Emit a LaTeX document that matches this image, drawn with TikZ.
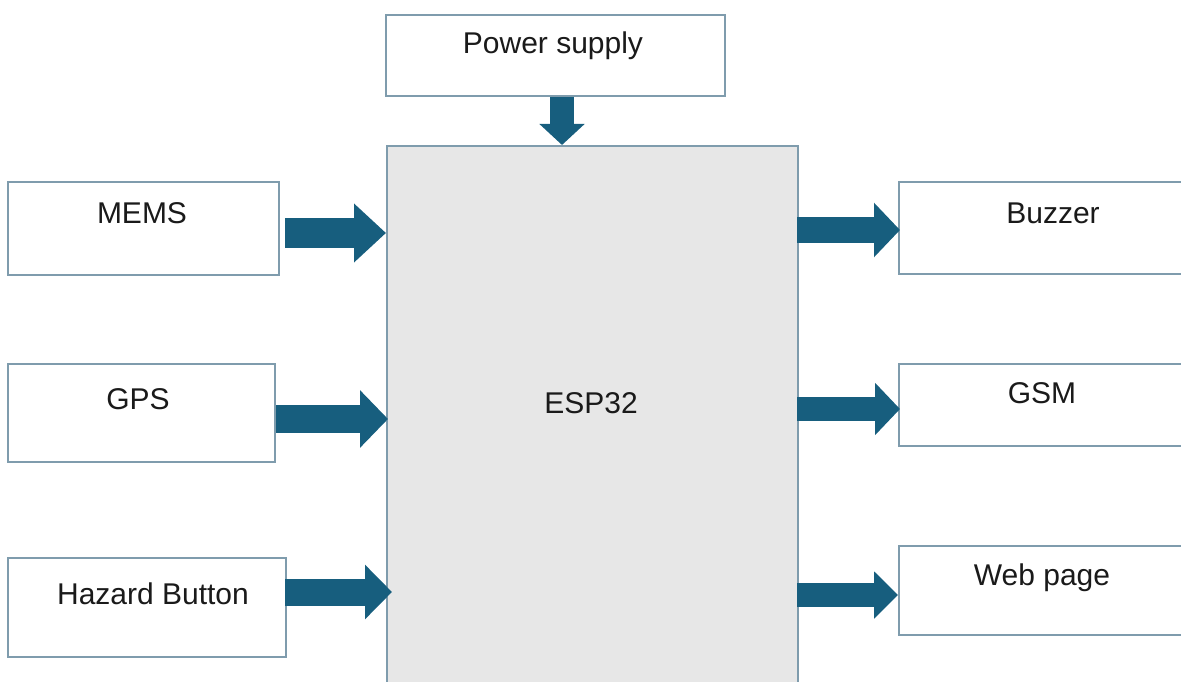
\documentclass[tikz,border=0pt]{standalone}
\usepackage{fontspec}
\setmainfont{Liberation Sans}
\usetikzlibrary{arrows.meta}
\definecolor{edge}{HTML}{7F9CAD}
\definecolor{arrowc}{HTML}{175E7E}
\definecolor{espfill}{HTML}{E7E7E7}
\definecolor{txt}{HTML}{1A1A1A}
\tikzset{
  box/.style={draw=edge, line width=2pt, fill=white, inner sep=0pt, anchor=north west},
  lbl/.style={anchor=base, inner sep=0pt, font=\fontsize{30}{33}\selectfont, text=txt},
  barrow/.style={draw=arrowc},
}
\begin{document}
\begin{tikzpicture}[x=1pt,y=-1pt]
\useasboundingbox (0,0) rectangle (1181,682);
\clip (0,0) rectangle (1181,682);
% boxes
\node[box, minimum width=339pt, minimum height=81pt] (ps) at (385,14) {};
\node[box, fill=espfill, minimum width=411pt, minimum height=560pt] (esp) at (386,145) {};
\node[box, minimum width=271pt, minimum height=93pt] (mems) at (7,181) {};
\node[box, minimum width=267pt, minimum height=98pt] (gps) at (7,363) {};
\node[box, minimum width=278pt, minimum height=99pt] (haz) at (7,557) {};
\node[box, minimum width=320pt, minimum height=92pt] (buz) at (898,181) {};
\node[box, minimum width=320pt, minimum height=82pt] (gsm) at (898,363) {};
\node[box, minimum width=320pt, minimum height=89pt] (web) at (898,545) {};
% labels
\node[lbl] (pst) at (553,54) {Power supply};
\node[lbl] (espt) at (591,413) {ESP32};
\node[lbl] (memst) at (142,223) {MEMS};
\node[lbl] (gpst) at (138,409) {GPS};
\node[lbl] (hazt) at (153,604) {Hazard Button};
\node[lbl] (buzt) at (1053,223) {Buzzer};
\node[lbl] (gsmt) at (1042,403) {GSM};
\node[lbl] (webt) at (1042,585) {Web page};
% arrows
\draw[barrow, line width=24pt, -{Triangle[length=21pt, width=44pt]}] (ps.south -| 562,0) -- (esp.north -| 562,0);
\draw[barrow, line width=30pt, -{Triangle[length=32pt, width=57pt]}] ([xshift=5pt]mems.east |- 0,233) -- (esp.west |- 0,233);
\draw[barrow, line width=28pt, -{Triangle[length=28pt, width=56pt]}] (gps.east |- 0,419) -- ([xshift=2pt]esp.west |- 0,419);
\draw[barrow, line width=27pt, -{Triangle[length=27pt, width=53pt]}] ([xshift=-2pt]haz.east |- 0,592) -- ([xshift=6pt]esp.west |- 0,592);
\draw[barrow, line width=26pt, -{Triangle[length=26pt, width=53pt]}] ([xshift=-2pt]esp.east |- 0,230) -- ([xshift=2pt]buz.west |- 0,230);
\draw[barrow, line width=24pt, -{Triangle[length=25pt, width=51pt]}] ([xshift=-2pt]esp.east |- 0,409) -- ([xshift=2pt]gsm.west |- 0,409);
\draw[barrow, line width=24pt, -{Triangle[length=24pt, width=46pt]}] ([xshift=-2pt]esp.east |- 0,595) -- (web.west |- 0,595);
\end{tikzpicture}
\end{document}
